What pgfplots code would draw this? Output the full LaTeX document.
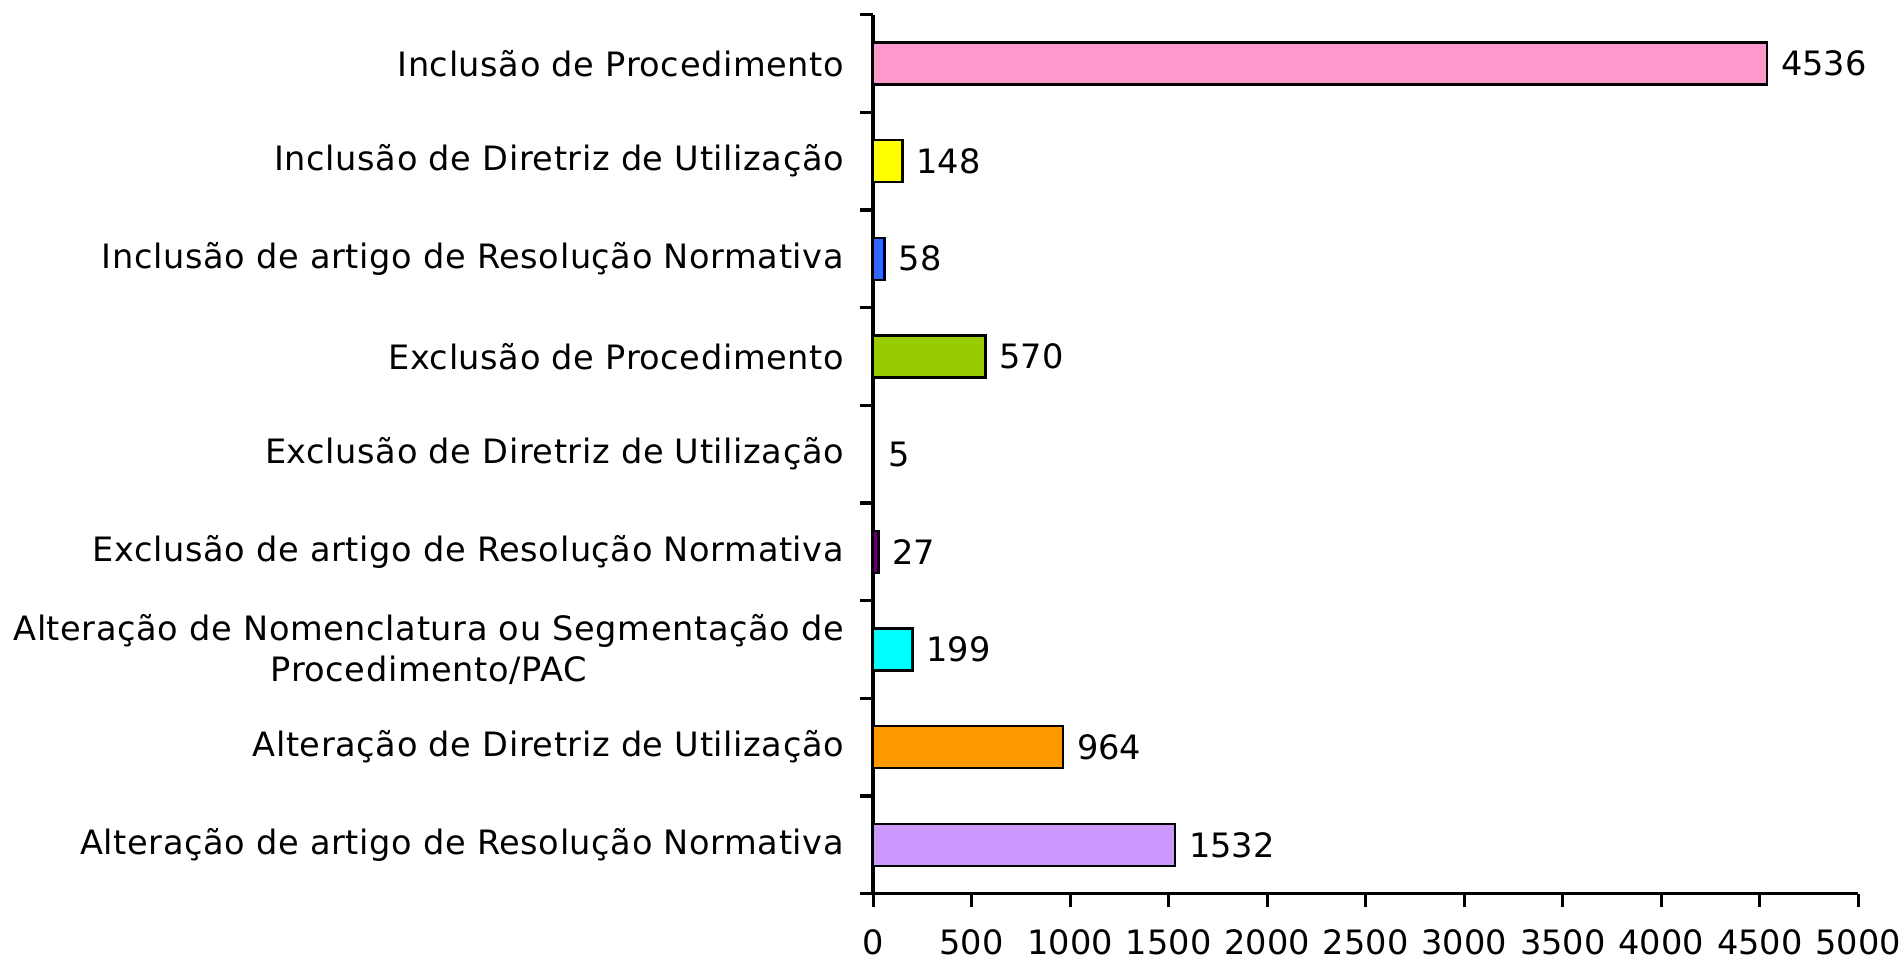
\documentclass[border=0pt]{standalone}
\usepackage{pgfplots}
\pgfplotsset{compat=1.18}
\usepackage{fontspec}
\setmainfont{DejaVu Sans}
\newfontfamily\lblfont[LetterSpace=1.8]{DejaVu Sans}
\definecolor{cPink}{HTML}{FF99CC}
\definecolor{cYellow}{HTML}{FFFF00}
\definecolor{cBlue}{HTML}{3366FF}
\definecolor{cGreen}{HTML}{99CC00}
\definecolor{cWhite}{HTML}{FFFFFF}
\definecolor{cPurple}{HTML}{660066}
\definecolor{cCyan}{HTML}{00FFFF}
\definecolor{cOrange}{HTML}{FF9900}
\definecolor{cLilac}{HTML}{CC99FF}
\begin{document}
\begin{tikzpicture}
\begin{axis}[
    scale only axis,
    width=243.5pt,
    height=217.3pt,
    xbar,
    bar shift=0pt,
    bar width=10.4pt,
    xmin=0, xmax=5000,
    ymin=-0.5, ymax=8.5,
    y dir=reverse,
    xtick={0,500,...,5000},
    ytick={0,...,8},
    yticklabels={{Inclusão de Procedimento},
                 {Inclusão de Diretriz de Utilização},
                 {Inclusão de artigo de Resolução Normativa},
                 {Exclusão de Procedimento},
                 {Exclusão de Diretriz de Utilização},
                 {Exclusão de artigo de Resolução Normativa},
                 {Alteração de Nomenclatura ou Segmentação de\\Procedimento/PAC},
                 {Alteração de Diretriz de Utilização},
                 {Alteração de artigo de Resolução Normativa}},
    minor ytick={-0.5,0.5,...,8.5},
    major y tick style={draw=none},
    minor tick length=3.3pt,
    major tick length=3.3pt,
    tick align=outside,
    tick style={black, line width=0.8pt},
    axis x line*=bottom,
    axis y line*=left,
    axis line style={line width=0.85pt, -},
    yticklabel style={font=\lblfont\fontsize{8.3}{10.3}\selectfont, align=center, xshift=-0.4pt},
    xticklabel style={font=\fontsize{8.3}{10.3}\selectfont, inner sep=0pt, yshift=-5.4pt},
    /pgf/number format/assume math mode=true,
    /pgf/number format/set thousands separator={},
    nodes near coords,
    nodes near coords style={font=\fontsize{8.3}{10.3}\selectfont, anchor=west, inner sep=0pt, xshift=3.2pt},
    every axis plot/.append style={draw=black, line width=0.6pt},
    clip=false,
]
\addplot[fill=cPink] coordinates {(4536,0)};
\addplot[fill=cYellow] coordinates {(148,1)};
\addplot[fill=cBlue] coordinates {(58,2)};
\addplot[fill=cGreen] coordinates {(570,3)};
\addplot[fill=cWhite] coordinates {(5,4)};
\addplot[fill=cPurple] coordinates {(27,5)};
\addplot[fill=cCyan] coordinates {(199,6)};
\addplot[fill=cOrange] coordinates {(964,7)};
\addplot[fill=cLilac] coordinates {(1532,8)};
\end{axis}
\path (current axis.north) ++(0,3.6pt);
\path (current axis.south) ++(0,-16.2pt);
\end{tikzpicture}
\end{document}
